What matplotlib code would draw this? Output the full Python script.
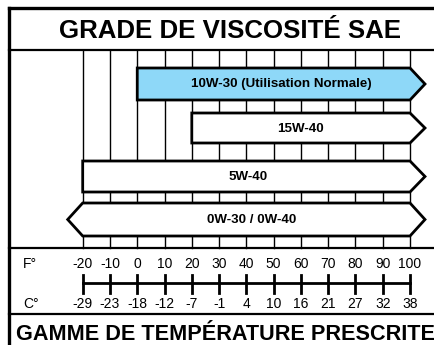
import numpy as np
import matplotlib.pyplot as plt
from matplotlib.patches import Polygon

plt.rcParams['font.family'] = ['Liberation Sans', 'DejaVu Sans']

# oil grades and their temperature range in deg F
grades = ['10W-30 (Utilisation Normale)', '15W-40', '5W-40', '0W-30 / 0W-40']
temp_low = [0, 20, -20, -20]
temp_high = [100, 100, 100, 100]
open_low = [False, False, False, True]    # arrow on the cold side
open_high = [True, True, True, True]      # arrow on the hot side
colors = ['#8ed8f8', 'white', 'white', 'white']

# scale
f_ticks = [-20, -10, 0, 10, 20, 30, 40, 50, 60, 70, 80, 90, 100]
c_labels = ['-29', '-23', '-18', '-12', '-7', '-1', '4', '10', '16', '21', '27', '32', '38']

# layout (rows are in pixels from top, x is deg F)
bar_rows = [(68, 100), (113, 143), (161, 192), (203, 236)]
label_x = [53.0, 59.7, 40.6, 42.1]
tip = 5.5

fig = plt.figure(figsize=(4.34, 3.45), dpi=100)
ax = fig.add_axes([0, 0, 1, 1])
ax.set_xlim(-50.32, 108.8)
ax.set_ylim(345, 0)
ax.axis('off')

def px2f(px):
    return -50.32 + px / 434 * (108.8 + 50.32)

left = px2f(8.5)
right = px2f(440)

# frame
ax.plot([left, right], [8, 8], color='black', lw=2.4, solid_capstyle='projecting')
ax.plot([left, left], [8, 350], color='black', lw=2.4, solid_capstyle='projecting')
for y in [50, 248, 314]:
    ax.plot([left, right], [y, y], color='black', lw=1.6)

# grid
for f in f_ticks:
    ax.plot([f, f], [50, 248], color='black', lw=1.0, zorder=1)

# grade bars
for i, g in enumerate(grades):
    top, bot = bar_rows[i]
    mid = (top + bot) / 2
    lo, hi = temp_low[i], temp_high[i]
    pts = [(lo, top), (hi, top)]
    if open_high[i]:
        pts.append((hi + tip, mid))
    pts += [(hi, bot), (lo, bot)]
    if open_low[i]:
        pts.append((lo - tip, mid))
    ax.add_patch(Polygon(pts, closed=True, facecolor=colors[i], edgecolor='black',
                         lw=2.0, joinstyle='miter', zorder=3))
    ax.text(label_x[i], mid + 0.5, g, ha='center', va='center', fontsize=9.6,
            fontweight='bold', zorder=4)

# temperature scale
ax.plot([f_ticks[0], f_ticks[-1]], [283, 283], color='black', lw=2.0)
for f, c in zip(f_ticks, c_labels):
    ax.plot([f, f], [275, 293], color='black', lw=2.0)
    ax.text(f, 264, str(f), ha='center', va='center', fontsize=10)
    ax.text(f, 304, c, ha='center', va='center', fontsize=10)
ax.text(px2f(23), 264, 'F°', ha='left', va='center', fontsize=10)
ax.text(px2f(23), 304, 'C°', ha='left', va='center', fontsize=10)

# titles
ax.text(px2f(230), 31, 'GRADE DE VISCOSITÉ SAE', ha='center', va='center',
        fontsize=18.6, fontweight='bold')
ax.text(px2f(16), 335, 'GAMME DE TEMPÉRATURE PRESCRITE', ha='left', va='center',
        fontsize=15.6, fontweight='bold')

fig.savefig('out.png', dpi=100)
